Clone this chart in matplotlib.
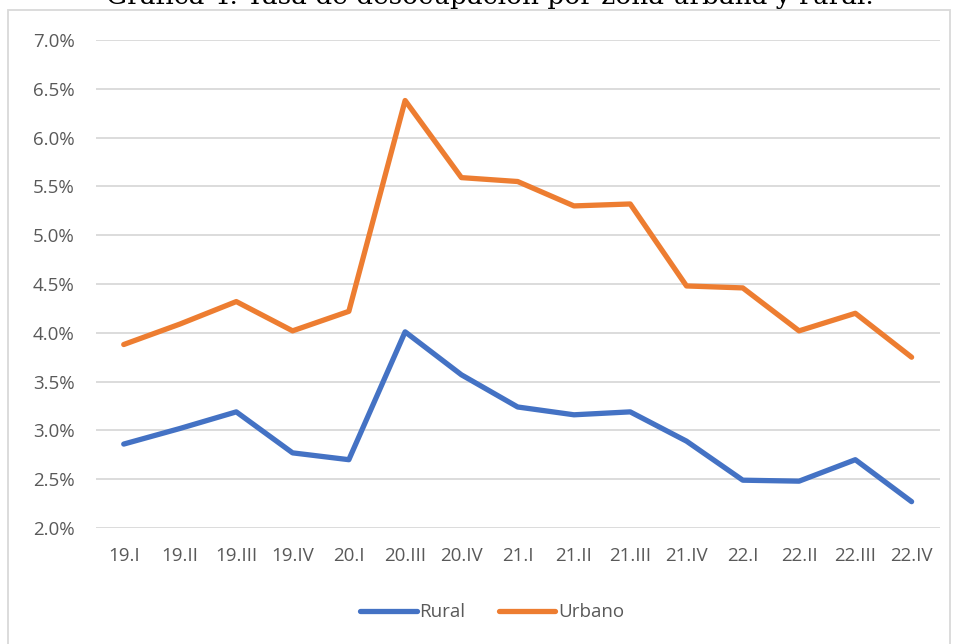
import matplotlib.pyplot as plt
from matplotlib.patches import Rectangle
from matplotlib.ticker import FuncFormatter, MultipleLocator

# Datos (tasa de desocupación, %)
trimestres = ["19.I", "19.II", "19.III", "19.IV", "20.I", "20.III", "20.IV", "21.I",
              "21.II", "21.III", "21.IV", "22.I", "22.II", "22.III", "22.IV"]
rural = [2.86, 3.02, 3.19, 2.77, 2.70, 4.01, 3.57, 3.24,
         3.16, 3.19, 2.89, 2.49, 2.48, 2.70, 2.27]
urbano = [3.88, 4.09, 4.32, 4.02, 4.22, 6.38, 5.59, 5.55,
          5.30, 5.32, 4.48, 4.46, 4.02, 4.20, 3.75]

TITULO = "Gráfica 4. Tasa de desocupación por zona urbana y rural."
GRIS = "#595959"

fig = plt.figure(figsize=(9.56, 6.44), dpi=100)
ax = fig.add_axes([0.1, 0.1801, 0.883, 0.7578])

x = range(len(trimestres))
ax.plot(x, rural, color="#4472C4", linewidth=3.8, label="Rural", solid_capstyle="round")
ax.plot(x, urbano, color="#ED7D31", linewidth=3.8, label="Urbano", solid_capstyle="round")

ax.set_xlim(-0.5, len(trimestres) - 0.5)
ax.set_ylim(2.0, 7.0)
ax.yaxis.set_major_locator(MultipleLocator(0.5))
ax.yaxis.set_major_formatter(FuncFormatter(lambda v, p: f"{v:.1f}%"))
ax.set_xticks(list(x))
ax.set_xticklabels(trimestres)

ax.grid(axis="y", color="#D9D9D9", linewidth=1.3)
ax.set_axisbelow(True)
for s in ax.spines.values():
    s.set_visible(False)
ax.tick_params(length=0, labelsize=13.5, labelcolor=GRIS)
ax.tick_params(axis="y", pad=15)
ax.tick_params(axis="x", pad=14)
for t in ax.get_xticklabels() + ax.get_yticklabels():
    t.set_fontfamily("Open Sans")

leg = ax.legend(loc="upper center", bbox_to_anchor=(0.47, -0.12), ncol=2, frameon=False,
                handlelength=3.0, columnspacing=1.8, handletextpad=0.15,
                prop={"family": "Open Sans", "size": 13.5})
for t in leg.get_texts():
    t.set_color(GRIS)

# marco del área del gráfico
fig.add_artist(Rectangle((8 / 956, -0.01), 942 / 956, 1 - 10 / 644 + 0.01,
                         transform=fig.transFigure, fill=False,
                         edgecolor="#D9D9D9", linewidth=1.3))

# título (recortado en la parte superior, como en el original)
fig.text(0.512, 1 - 4 / 644, TITULO, ha="center", va="baseline",
         fontsize=19, family="DejaVu Serif", color="black")

fig.savefig("out.png", dpi=100)
